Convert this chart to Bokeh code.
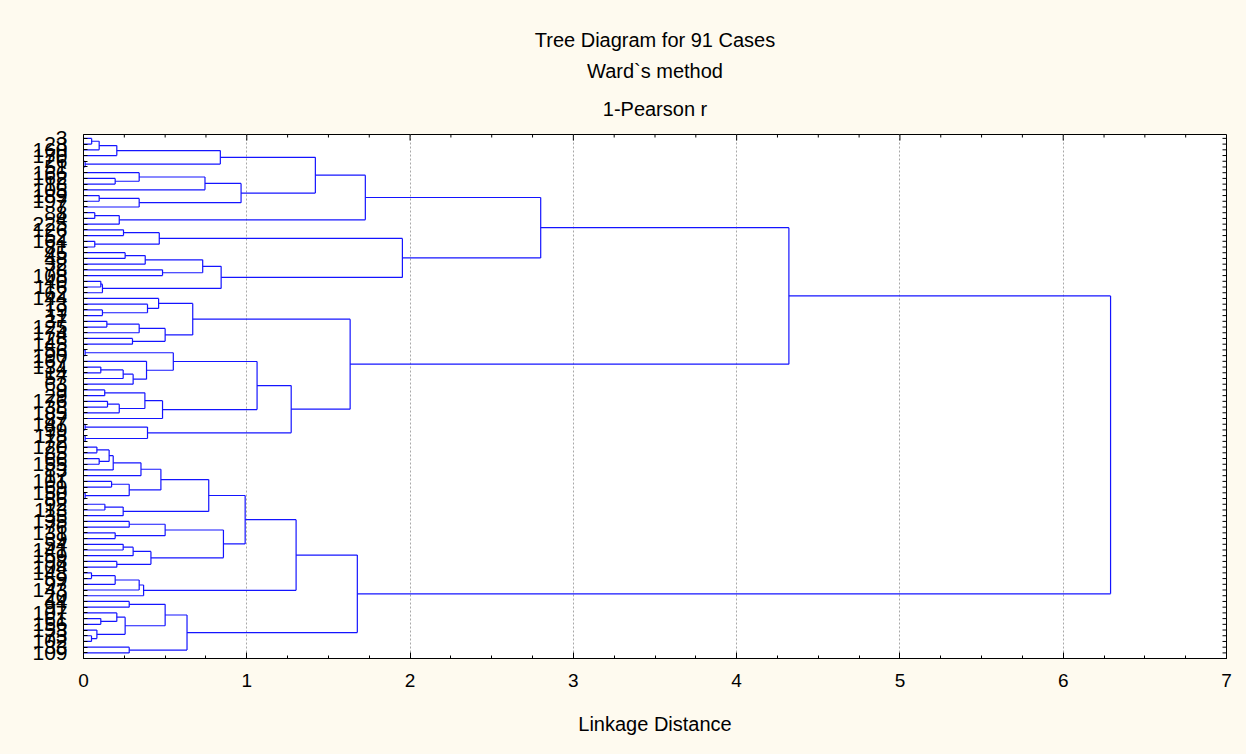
from bokeh.plotting import figure
from bokeh.models import (Range1d, LinearAxis, FixedTicker, SingleIntervalTicker,
                          Title, Grid)
from bokeh.embed import file_html
from bokeh.resources import INLINE

# ---------------- data ----------------
leaf_labels = ["3", "23", "160", "170", "26", "51", "166", "162", "18", "105",
               "189", "197", "7", "88", "4", "225", "126", "52", "164", "81",
               "45", "48", "32", "78", "108", "40", "116", "62", "144", "13",
               "19", "11", "37", "125", "174", "28", "145", "56", "190", "167",
               "134", "14", "57", "63", "9", "29", "176", "38", "185", "87",
               "147", "99", "118", "72", "120", "85", "66", "155", "83", "17",
               "101", "69", "150", "86", "92", "113", "35", "135", "76", "131",
               "39", "54", "141", "159", "98", "104", "148", "59", "97", "143",
               "20", "44", "91", "107", "61", "156", "153", "73", "102", "33",
               "109"]

# linkage distance at which neighbouring leaves (i, i+1) are first joined
join_heights = [0.05, 0.096, 0.204, 0.838, 0.01, 1.42, 0.341, 0.194, 0.744, 0.965,
                0.096, 0.341, 1.726, 0.069, 0.219, 2.80, 0.245, 0.464, 0.069, 1.953,
                0.255, 0.378, 0.73, 0.484, 0.843, 0.106, 0.116, 4.32, 0.46, 0.392,
                0.116, 0.669, 0.143, 0.341, 0.5, 0.3, 1.633, 0.01, 0.55, 0.386,
                0.106, 0.243, 0.304, 1.063, 0.13, 0.376, 0.147, 0.219, 0.484, 1.272,
                0.01, 0.392, 0.01, 6.29, 0.082, 0.157, 0.096, 0.182, 0.352, 0.474,
                0.172, 0.28, 0.01, 0.767, 0.131, 0.243, 0.99, 0.28, 0.5, 0.194,
                0.857, 0.243, 0.304, 0.413, 0.204, 1.302, 0.049, 0.194, 0.341, 0.368,
                1.677, 0.28, 0.5, 0.204, 0.106, 0.255, 0.082, 0.049, 0.634, 0.28]

x_ticks = [0, 1, 2, 3, 4, 5, 6, 7]
grid_ticks = [1, 2, 3, 4, 5, 6]
title_lines = ["Tree Diagram for 91 Cases", "Ward`s method", "1-Pearson r"]
x_label = "Linkage Distance"

# ---------------- styles / layout ----------------
CREAM = "#FEFAEF"
LINE = "#1414ff"
FONT = "Liberation Sans"
W, H = 1246, 754
B_LEFT, B_RIGHT, B_TOP, B_BOTTOM = 83, 20, 134, 96
TITLE_STANDOFFS = [13, 0, 29]   # top line, middle line, bottom line

# ---------------- dendrogram geometry ----------------
seg_x0, seg_y0, seg_x1, seg_y1 = [], [], [], []


def build(lo, hi):
    if lo == hi:
        return float(lo), 0.0
    k = max(range(lo, hi), key=lambda i: join_heights[i])
    h = join_heights[k]
    y1, h1 = build(lo, k)
    y2, h2 = build(k + 1, hi)
    for (yy, hh) in ((y1, h1), (y2, h2)):
        seg_x0.append(hh); seg_y0.append(yy); seg_x1.append(h); seg_y1.append(yy)
    seg_x0.append(h); seg_y0.append(y1); seg_x1.append(h); seg_y1.append(y2)
    return (y1 + y2) / 2.0, h


build(0, len(leaf_labels) - 1)

n = len(leaf_labels)
y_top, y_bot = -0.68, n - 1 + 0.98
p = figure(width=W, height=H,
           x_range=Range1d(x_ticks[0], x_ticks[-1]),
           y_range=Range1d(y_bot, y_top),
           output_backend="svg", toolbar_location=None,
           x_axis_location=None, y_axis_location=None,
           min_border_left=B_LEFT, min_border_right=B_RIGHT,
           min_border_top=B_TOP, min_border_bottom=B_BOTTOM,
           background_fill_color="white", border_fill_color=CREAM,
           outline_line_color="black", outline_line_width=1)

p.grid.visible = False

p.add_layout(Grid(dimension=0, ticker=FixedTicker(ticks=grid_ticks),
                  grid_line_color="#a8a8a8", grid_line_dash="2 2",
                  grid_line_width=1))

p.segment(seg_x0, seg_y0, seg_x1, seg_y1, line_color=LINE, line_width=1.2)

# ---- inward ticks on the top and right frame edges ----
px_per_x = (W - B_LEFT - B_RIGHT) / (x_ticks[-1] - x_ticks[0])
px_per_y = (H - B_TOP - B_BOTTOM) / (y_bot - y_top)
tx0, tx1, ty0, ty1 = [], [], [], []
for i in range(len(x_ticks)):
    xv = x_ticks[i]
    tx0.append(xv); tx1.append(xv); ty0.append(y_top); ty1.append(y_top + 6 / px_per_y)
    if i < len(x_ticks) - 1:
        for q in (1, 2, 3):
            xm = xv + q * (x_ticks[i + 1] - xv) / 4
            tx0.append(xm); tx1.append(xm); ty0.append(y_top); ty1.append(y_top + 3 / px_per_y)
for i in range(n):
    tx0.append(x_ticks[-1] - 4 / px_per_x); tx1.append(x_ticks[-1])
    ty0.append(i); ty1.append(i)
p.segment(tx0, ty0, tx1, ty1, line_color="black", line_width=1)

# ---- bottom axis ----
xa = LinearAxis(ticker=SingleIntervalTicker(interval=1, num_minor_ticks=4),
                major_tick_in=6, major_tick_out=0,
                minor_tick_in=3, minor_tick_out=0,
                axis_line_color="black", major_tick_line_color="black",
                minor_tick_line_color="black",
                major_label_text_font=FONT, major_label_text_font_size="19px",
                major_label_text_color="black", major_label_standoff=15,
                axis_label=x_label, axis_label_text_font=FONT,
                axis_label_text_font_size="20px", axis_label_text_font_style="normal",
                axis_label_text_color="black", axis_label_standoff=23)
p.add_layout(xa, "below")

# ---- left axis (case labels) ----
ya = LinearAxis(ticker=FixedTicker(ticks=list(range(n))),
                major_tick_in=4, major_tick_out=0,
                minor_tick_line_color=None,
                axis_line_color="black", major_tick_line_color="black",
                major_label_overrides={i: lab for i, lab in enumerate(leaf_labels)},
                major_label_text_font=FONT, major_label_text_font_size="21px",
                major_label_text_color="black", major_label_standoff=16)
p.add_layout(ya, "left")

# ---- titles (later additions sit further from the plot) ----
for t, s in reversed(list(zip(title_lines, TITLE_STANDOFFS))):
    p.add_layout(Title(text=t, align="center", text_font=FONT,
                       text_font_size="20px", text_font_style="normal",
                       text_color="black", standoff=s), "above")

html = file_html(p, INLINE)
html = html.replace("<head>", "<head><style>body{background:%s;}</style>" % CREAM, 1)
open("out.html", "w").write(html)
